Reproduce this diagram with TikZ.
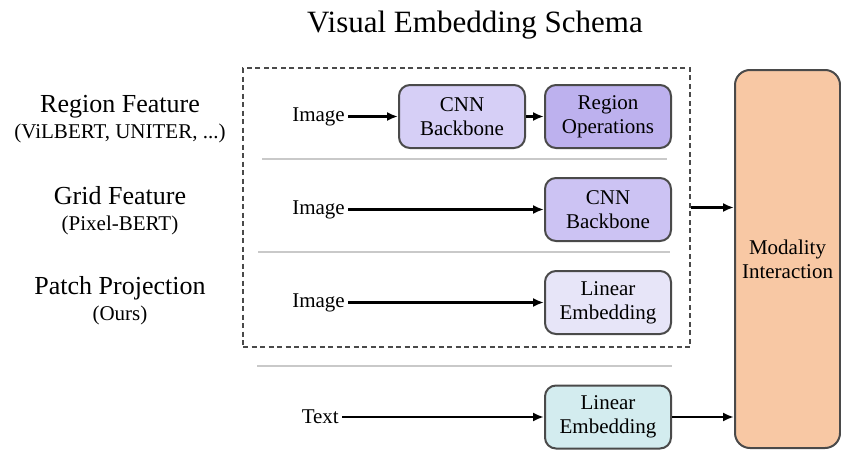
\documentclass[tikz,border=0pt]{standalone}
\usepackage{fontspec}
\setmainfont{Liberation Serif}
\usetikzlibrary{arrows.meta,positioning}
\definecolor{edge}{HTML}{4A4A4A}
\definecolor{sepgray}{HTML}{C9C9C9}
\definecolor{lavA}{HTML}{D6CFF6}
\definecolor{lavB}{HTML}{BDB1EE}
\definecolor{lavC}{HTML}{CCC3F3}
\definecolor{lavD}{HTML}{E7E5F8}
\definecolor{lightcyan}{HTML}{D3ECEF}
\definecolor{peach}{HTML}{F8C8A4}
\tikzset{
  block/.style={
    rounded corners=11pt,draw=edge,line width=2pt,
    minimum width=126pt,minimum height=63pt,inner sep=2pt,
    align=center,font=\rmfamily\fontsize{21}{24}\selectfont
  },
  inword/.style={inner sep=3pt,font=\rmfamily\fontsize{21}{24}\selectfont},
  rowlabel/.style={align=center,font=\rmfamily\fontsize{26}{28}\selectfont},
  arrow/.style={-{Latex[length=11pt,width=9pt]},draw=black,line width=2.4pt},
  sepline/.style={draw=sepgray,line width=2.2pt}
}
\begin{document}
\begin{tikzpicture}[x=1pt,y=-1pt,node distance=18pt]
\useasboundingbox (0,0) rectangle (841,450);
\node[font=\rmfamily\fontsize{31}{36}\selectfont] (title) at (475,25)
{Visual Embedding Schema};

% left column
\node[rowlabel] (regionlbl) at (120,119)
{Region Feature\\[-2pt]{\fontsize{21}{24}\selectfont (ViLBERT, UNITER, ...)}};
\node[rowlabel] (gridlbl) at (120,211)
{Grid Feature\\[-2pt]{\fontsize{21}{24}\selectfont (Pixel-BERT)}};
\node[rowlabel] (patchlbl) at (120,301)
{Patch Projection\\[-2pt]{\fontsize{21}{24}\selectfont (Ours)}};

% visual embedding
\node[draw=edge,line width=2.2pt,dash pattern=on 5pt off 3.5pt,
  minimum width=447pt,minimum height=279pt] (visual) at (466.5,207.5) {};
\node[block,fill=lavB] (regionop) at (608,116.5) {Region\\Operations};
\node[block,fill=lavA,left=of regionop] (cnnA) {CNN\\Backbone};
\node[block,fill=lavC,below=28pt of regionop] (cnnB) {CNN\\Backbone};
\node[block,fill=lavD,below=28pt of cnnB] (linA) {Linear\\Embedding};
\node[inword,anchor=east] (imgA) at (348,116.5) {Image};
\node[inword,anchor=east] (imgB) at (348,209.5) {Image};
\node[inword,anchor=east] (imgC) at (348,302.5) {Image};

\draw[sepline] (262,159) -- (667,159);
\draw[sepline] (258,252) -- (670,252);
\draw[sepline] (257,366) -- (672,366);

% text embedding
\node[block,fill=lightcyan] (linT) at (608,417) {Linear\\Embedding};
\node[inword,anchor=east] (txt) at (342,417) {Text};

\node[block,fill=peach,rounded corners=15pt,minimum width=105pt,
  minimum height=378pt] (modal) at (787.5,259) {Modality\\Interaction};

\draw[arrow] (imgA.east) -- (imgA.east -| cnnA.west);
\draw[arrow] (cnnA) -- (regionop);
\draw[arrow] (imgB.east) -- (imgB.east -| cnnB.west);
\draw[arrow] (imgC.east) -- (imgC.east -| linA.west);
\draw[arrow] (txt.east) -- (txt.east -| linT.west);
\draw[arrow] (visual.east) -- (modal.west |- visual.east);
\draw[arrow] (linT) -- (modal.west |- linT);
\end{tikzpicture}
\end{document}
